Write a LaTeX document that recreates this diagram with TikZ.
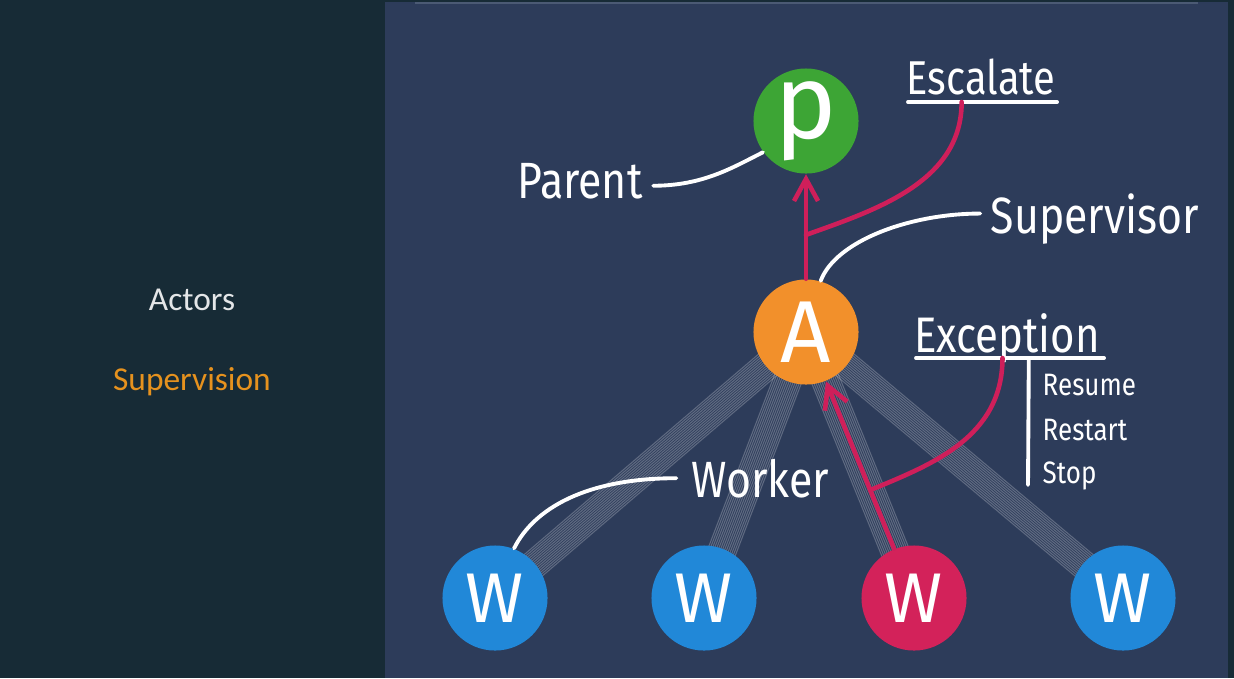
\documentclass[tikz,border=0pt]{standalone}
\usepackage{fontspec}
\usepackage{xcolor}
\usepackage{tikz}
\usetikzlibrary{calc,arrows.meta}
\newfontfamily\handfont[FakeStretch=0.84]{Fira Sans}
\newfontfamily\glyphfont{Fira Sans}
\newfontfamily\menufont{Carlito}
\definecolor{sidebar}{HTML}{172B36}
\definecolor{stage}{HTML}{2D3C5A}
\definecolor{rim}{HTML}{4B5A74}
\definecolor{pgreen}{HTML}{3DA535}
\definecolor{aorange}{HTML}{F2902B}
\definecolor{wblue}{HTML}{2188D8}
\definecolor{wred}{HTML}{D3225A}
\definecolor{redline}{HTML}{CF1F5A}
\definecolor{menuhi}{HTML}{E6921E}
\definecolor{menutext}{HTML}{E4E6E8}
\pgfdeclarelayer{panel}
\pgfdeclarelayer{beam}
\pgfsetlayers{panel,beam,main}
\tikzset{
  actor/.style={circle, minimum size=1.05cm, inner sep=0pt, text=white},
  lab/.style={text=white, inner sep=0pt, font=\handfont\fontsize{14.5}{17}\selectfont},
  menu/.style={inner sep=0pt, font=\menufont\fontsize{9.5}{11}\selectfont},
  wline/.style={draw=white, line width=1.1pt, line cap=round},
  rline/.style={draw=redline, line width=1.3pt, line cap=round},
  rarrow/.style={rline, -{Straight Barb[length=2.2mm,width=2.4mm]}},
  beam/.style={draw=white, line width=0.3pt, opacity=0.24},
}

\begin{document}
\begin{tikzpicture}[x=0.01cm, y=-0.01cm]
  \useasboundingbox (0,0) rectangle (1234,678);
  \begin{pgfonlayer}{panel}
    \fill[sidebar] (0,0) rectangle (1234,678);
    \fill[stage] (385,2) rectangle (1228,678);
    \draw[rim, line width=0.6pt] (415,3) -- (1198,3);
  \end{pgfonlayer}
  % menu
  \node[menu, text=menutext] (actors) at (192,300) {Actors};
  \node[menu, text=menuhi] (supervision) at (192,382) {Supervision};
  % actors
  \node[actor, fill=pgreen, font=\glyphfont\fontsize{30}{32}\selectfont] (P) at (806,121) {p};
  \node[actor, fill=aorange, font=\glyphfont\fontsize{25}{28}\selectfont] (A) at (806,332) {A};
  \node[actor, fill=wblue, font=\glyphfont\fontsize{20}{24}\selectfont] (W1) at (495,598) {W};
  \node[actor, fill=wblue, font=\glyphfont\fontsize{20}{24}\selectfont] (W2) at (704,598) {W};
  \node[actor, fill=wred, font=\glyphfont\fontsize{20}{24}\selectfont] (W3) at (914,598) {W};
  \node[actor, fill=wblue, font=\glyphfont\fontsize{20}{24}\selectfont] (W4) at (1123,598) {W};
  % links to workers
  \begin{pgfonlayer}{beam}
    \foreach \w in {W1,W2,W3,W4}
      \foreach \d in {-14,-12,...,14}
        \draw[beam] ($(A.center)!\d*0.1mm!90:(\w.center)$) -- ($(\w.center)!\d*0.1mm!-90:(A.center)$);
  \end{pgfonlayer}
  % labels
  \node[lab, anchor=base] (parent) at (580,198) {Parent};
  \node[lab, anchor=base, font=\handfont\fontsize{13.5}{16}\selectfont] (escalate) at (981,94) {Escalate};
  \node[lab, anchor=base] (supervisor) at (1095,233) {Supervisor};
  \node[lab, anchor=base, font=\handfont\fontsize{14.2}{17}\selectfont] (exception) at (1007,352) {Exception};
  \node[lab, anchor=base west, font=\handfont\fontsize{8.8}{11}\selectfont] (resume) at (1042,395) {Resume};
  \node[lab, anchor=base west, font=\handfont\fontsize{8.8}{11}\selectfont] (restart) at (1042,440) {Restart};
  \node[lab, anchor=base west, font=\handfont\fontsize{8.8}{11}\selectfont] (stop) at (1042,483) {Stop};
  \node[lab, anchor=base] (worker) at (760,497) {Worker};
  % underlines and bar
  \coordinate (escL) at (908,102);
  \coordinate (escR) at (1057,102);
  \coordinate (excL) at (916,358);
  \coordinate (excR) at (1104,358);
  \coordinate (barB) at (1028,485);
  \draw[wline] (escL) -- (escR);
  \draw[wline] (excL) -- (excR);
  \draw[wline] ($(excL)!0.6!(excR)$) -- (barB);
  % white pointers
  \draw[wline] ($(parent.east)+(10,5)$) .. controls +(50,0) and +(-30,15) .. (P.216);
  \draw[wline] ($(supervisor.west)+(-10,-5)$) .. controls +(-70,0) and +(15,-40) .. (A.74);
  \draw[wline] ($(worker.west)+(-14,0)$) .. controls +(-90,0) and +(20,-40) .. (W1.69);
  % red flow
  \coordinate (escjoin) at ($(A.north)!0.42!(P.south)$);
  \coordinate (excjoin) at ($(W3.112)!0.35!(A.-68)$);
  \draw[rarrow] (A.north) -- (P.south);
  \draw[rarrow] (W3.112) -- (A.-68);
  \draw[rline] ($(escL)!0.36!(escR)$) .. controls +(0,80) and +(70,-25) .. (escjoin);
  \draw[rline] ($(excL)!0.46!(excR)$) .. controls +(0,80) and +(60,-25) .. (excjoin);
\end{tikzpicture}
\end{document}
